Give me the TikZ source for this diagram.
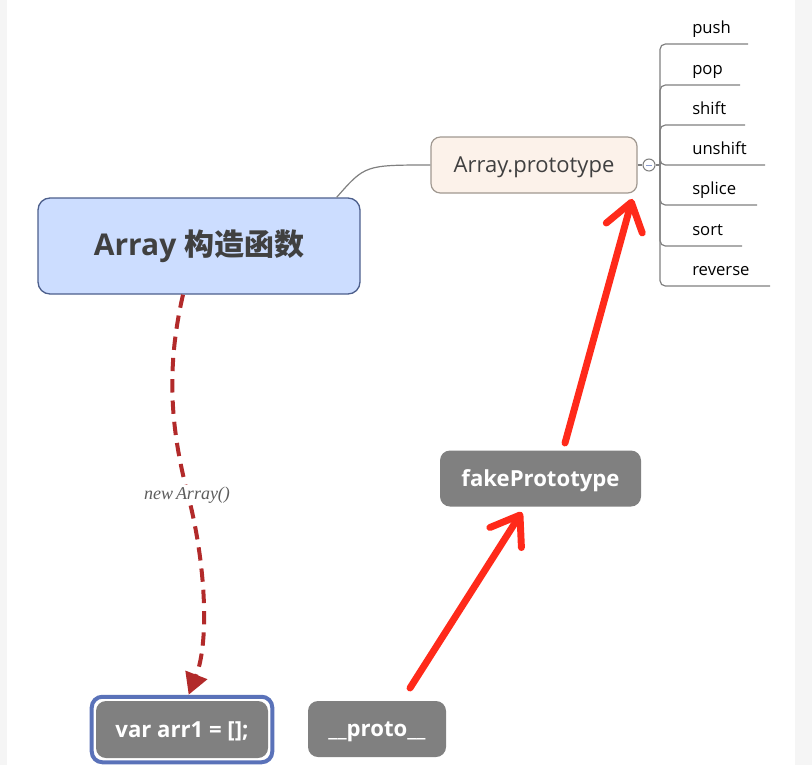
\documentclass[tikz,border=0pt]{standalone}
\usepackage{fontspec}
\setmainfont{Open Sans}
\newfontfamily\cjkfont{Noto Sans CJK SC}
\newfontfamily\noteserif{Liberation Serif}
\usepackage{tikz}
\usetikzlibrary{arrows.meta,fit,calc}
\definecolor{ctorfill}{HTML}{CCDDFF}
\definecolor{ctordraw}{HTML}{4D5F8C}
\definecolor{protofill}{HTML}{FCF2EA}
\definecolor{protodraw}{HTML}{A09890}
\definecolor{darkfill}{HTML}{808080}
\definecolor{selblue}{HTML}{5A72B9}
\definecolor{newred}{HTML}{B22A2A}
\definecolor{linkred}{HTML}{FF2A1A}
\definecolor{txt}{HTML}{404040}
\definecolor{strip}{HTML}{F5F5F5}
\begin{document}
\begin{tikzpicture}[x=0.75pt,y=-0.75pt,
	rootbox/.style={draw=ctordraw,fill=ctorfill,line width=1pt,rounded corners=9pt,minimum width=241.5pt,minimum height=72pt,text=txt,font=\fontsize{22.5}{27}\selectfont\bfseries},
	protobox/.style={draw=protodraw,fill=protofill,line width=0.9pt,rounded corners=7pt,minimum width=154.5pt,minimum height=42pt,text depth=0pt,text=txt,font=\fontsize{16.5}{20}\selectfont},
	darkbox/.style={fill=darkfill,rounded corners=7.5pt,minimum height=42pt,text depth=0pt,text=white,font=\fontsize{16.6}{20}\selectfont\bfseries},
	selbox/.style={draw=selblue,line width=3pt,rounded corners=8pt,inner sep=3pt},
	branch/.style={draw=gray,line width=0.9pt,rounded corners=4pt},
	method/.style={anchor=base west,inner sep=0pt,text=black,font=\fontsize{12.5}{15}\selectfont},
	redline/.style={draw=linkred,line width=5.2pt,line cap=round,-{Straight Barb[round,length=20pt,width=28pt]}},
	newline/.style={draw=newred,line width=3pt,dash pattern=on 10pt off 6pt,-{Triangle[length=16pt,width=17pt]}}]
	% Define the canvas
	\useasboundingbox (0,0) rectangle (812,765);
	\fill[strip] (0,0) rectangle (7,765);
	\fill[strip] (795,0) rectangle (812,765);
	% Boxes
	\node[rootbox] (ctor) at (199,246) {Array {\cjkfont 构造函数}};
	\node[protobox] (proto) at (534,165) {Array.prototype};
	\node[darkbox,minimum width=150.75pt] (fake) at (540.5,478.5) {fakePrototype};
	\node[darkbox,minimum width=129pt,minimum height=42.75pt] (arr1) at (182,729.5) {var arr1 = [];};
	\node[darkbox,minimum width=103.5pt] (link) at (377,729) {\_\_proto\_\_};
	\node[selbox,fit=(arr1)] (arr1sel) {};
	% Link to the prototype
	\draw[gray,line width=0.9pt] ([xshift=-18pt]ctor.north east) .. controls (365,165) .. (proto.west);
	\node[circle,draw=gray,fill=white,line width=0.8pt,minimum size=9pt,inner sep=0pt] (fold) at (649,165) {};
	\draw[gray,line width=0.9pt] (proto.east) -- (fold.west);
	\draw[selblue!70,line width=0.6pt] ($(fold.center)+(-3,0)$) -- ($(fold.center)+(3,0)$);
	% Methods
	\coordinate (stem) at (660,165);
	\draw[branch] (fold.east) -- (stem);
	\foreach \i/\y/\xe/\lbl in {1/44/748/push,2/85/740/pop,3/125/745/shift,4/165/765/unshift,5/205/757/splice,6/246/742/sort,7/286/770/reverse}{
		\draw[branch] (stem) -- (660,\y) -- (\xe,\y);
		\node[method] (m\i) at (692,\y-11) {\lbl};}
	% Constructor call
	\draw[newline] ([xshift=-12pt]ctor.south) .. controls (168,360) and (168,420) .. (188,495)
		.. controls (205,560) and (210,640) .. ([xshift=5pt]arr1sel.north);
	\node[fill=white,inner sep=1pt,text=txt!85,font=\fontsize{13.5}{16}\selectfont\noteserif\itshape] (call) at (187,495) {new\,Array()};
	% Prototype chain
	\coordinate (tail1) at (410,688);
	\coordinate (tail2) at (565,443);
	\draw[redline] (tail1) -- ([xshift=-14pt,yshift=-4pt]fake.south);
	\draw[redline] (tail2) -- ([xshift=-4pt,yshift=-4pt]proto.south east);
\end{tikzpicture}
\end{document}
